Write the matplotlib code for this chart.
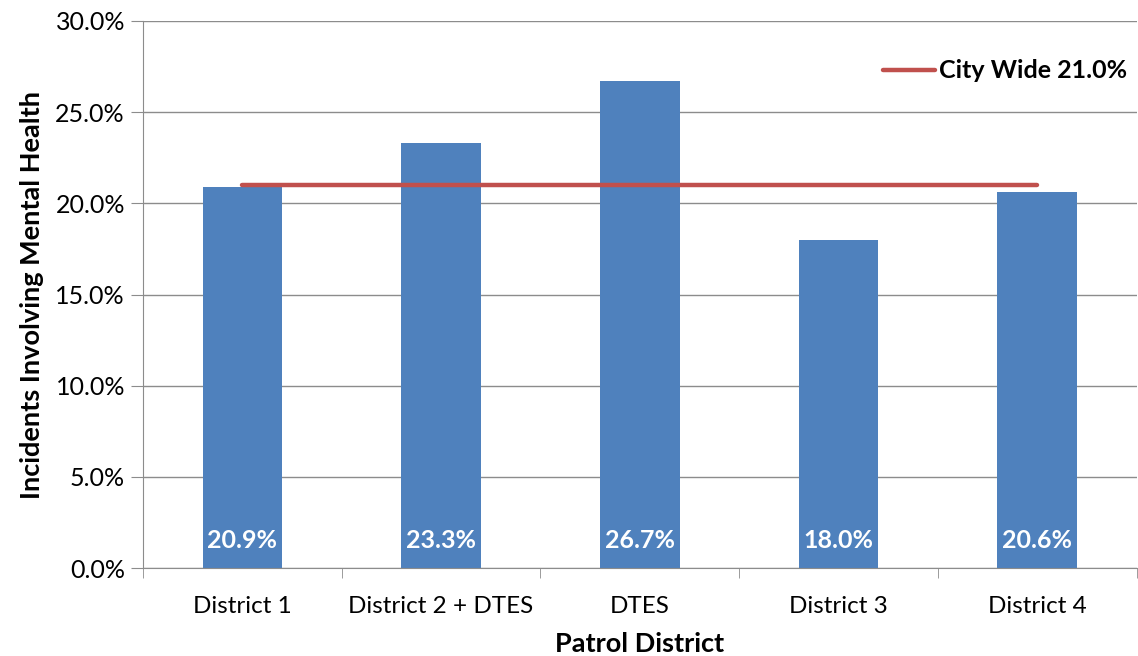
import matplotlib.pyplot as plt
from matplotlib.ticker import FuncFormatter, FixedLocator

districts = ['District 1', 'District 2 + DTES', 'DTES', 'District 3', 'District 4']
rates = [20.9, 23.3, 26.7, 18.0, 20.6]
city_wide = 21.0
y_ticks = [0, 5, 10, 15, 20, 25, 30]

plt.rcParams['font.family'] = ['Lato', 'DejaVu Sans']

fig = plt.figure(figsize=(11.38, 6.56), dpi=100)
ax = fig.add_axes([0.1257, 0.134, 0.873, 0.834])

x = list(range(len(districts)))
ax.bar(x, rates, width=0.4, color='#4F81BD', zorder=2)
ax.plot(x, [city_wide] * len(x), color='#C0504D', lw=3.2, zorder=3,
        solid_capstyle='round', label='City Wide %.1f%%' % city_wide)

for xi, v in zip(x, rates):
    ax.text(xi, 1.5, '%.1f%%' % v, ha='center', va='center', color='white',
            fontsize=18, fontweight='bold', zorder=4)

ax.set_xlim(-0.5, len(districts) - 0.5)
ax.set_ylim(0, 30)
ax.set_yticks(y_ticks)
ax.yaxis.set_major_formatter(FuncFormatter(lambda v, p: '%.1f%%' % v))
ax.yaxis.grid(True, color='#8c8c8c', lw=1)
ax.set_axisbelow(True)

ax.set_xticks(x)
ax.set_xticklabels(districts, fontsize=17.5)
ax.xaxis.set_minor_locator(FixedLocator([i - 0.5 for i in range(len(districts) + 1)]))
ax.tick_params(axis='x', which='major', length=0, pad=20)
ax.tick_params(axis='x', which='minor', length=7, color='#8c8c8c', direction='out')
ax.tick_params(axis='y', labelsize=18, length=9, color='#8c8c8c', pad=4)

for s in ['top', 'right']:
    ax.spines[s].set_visible(False)
ax.spines['left'].set_color('#8c8c8c')
ax.spines['bottom'].set_color('#8c8c8c')

ax.set_xlabel('Patrol District', fontsize=19.5, fontweight='bold', labelpad=11)
ax.set_ylabel('Incidents Involving Mental Health', fontsize=19.5, fontweight='bold', labelpad=8)

leg = ax.legend(loc='upper right', bbox_to_anchor=(1.008, 0.962), frameon=False,
                handlelength=2.1, handletextpad=0.15, borderaxespad=0.3,
                prop={'size': 18, 'weight': 'bold'})

fig.savefig('out.png', dpi=100)
